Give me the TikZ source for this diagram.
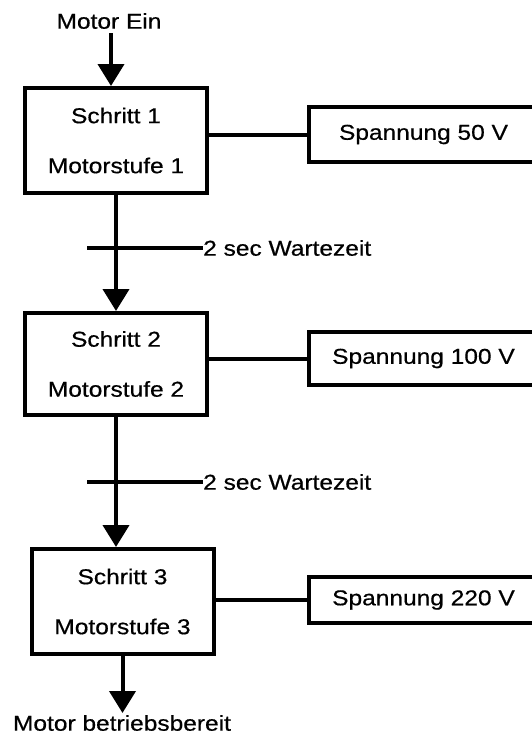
\documentclass[tikz,border=0pt]{standalone}
\usepackage{fontspec}
\newfontfamily\labfont{Liberation Sans}[FakeBold=0.5]
\newcommand\sx[1]{\scalebox{1.14}[1]{#1}}
\usetikzlibrary{arrows.meta}
\begin{document}
\begin{tikzpicture}[x=1pt,y=-1pt,
  txt/.style={font=\labfont\fontsize{21.5}{50}\selectfont, inner sep=0pt},
  stepbox/.style={draw, line width=4pt, align=center, txt, minimum width=182pt},
  voltbox/.style={draw, line width=4pt, txt, minimum width=229pt, anchor=west},
  conn/.style={line width=4pt},
  flow/.style={line width=4pt, -{Triangle[width=26pt,length=22pt]}}]
\useasboundingbox (0,0) rectangle (532,734);

\node[txt] (in) at (109,21) {\sx{Motor Ein}};
\node[stepbox, minimum height=105pt] (s1) at (116,140.5) {\sx{Schritt 1}\\\sx{Motorstufe 1}};
\node[stepbox, minimum height=102pt] (s2) at (116,364) {\sx{Schritt 2}\\\sx{Motorstufe 2}};
\node[stepbox, minimum height=105pt] (s3) at (122.5,601.5) {\sx{Schritt 3}\\\sx{Motorstufe 3}};

\node[voltbox, minimum height=55pt] (v1) at (307,134.5) {\sx{Spannung 50 V}};
\node[voltbox, minimum height=53pt] (v2) at (307,358.5) {\sx{Spannung 100 V}};
\node[voltbox, minimum height=46pt] (v3) at (307,600) {\sx{Spannung 220 V}};

\node[txt, anchor=west] (w1) at (203,248) {\sx{2 sec Wartezeit}};
\node[txt, anchor=west] (w2) at (203,482) {\sx{2 sec Wartezeit}};
\coordinate (w1a) at (87,248);
\coordinate (w2a) at (87,482);

\node[txt] (out) at (122,723) {\sx{Motor betriebsbereit}};
\coordinate (outtip) at (123,713);
\coordinate (intop) at (111,33);

\draw[flow] (intop) -- (intop |- s1.north);
\draw[flow] (s1.south) -- (s2.north);
\draw[flow] (s2.south) -- (s2.south |- s3.north);
\draw[flow] (s3.south) -- (s3.south |- outtip);

\draw[conn] (v1.west) -- (v1.west -| s1.east);
\draw[conn] (v2.west) -- (v2.west -| s2.east);
\draw[conn] (v3.west) -- (v3.west -| s3.east);

\draw[conn] (w1a) -- (w1.west);
\draw[conn] (w2a) -- (w2.west);
\end{tikzpicture}
\end{document}
